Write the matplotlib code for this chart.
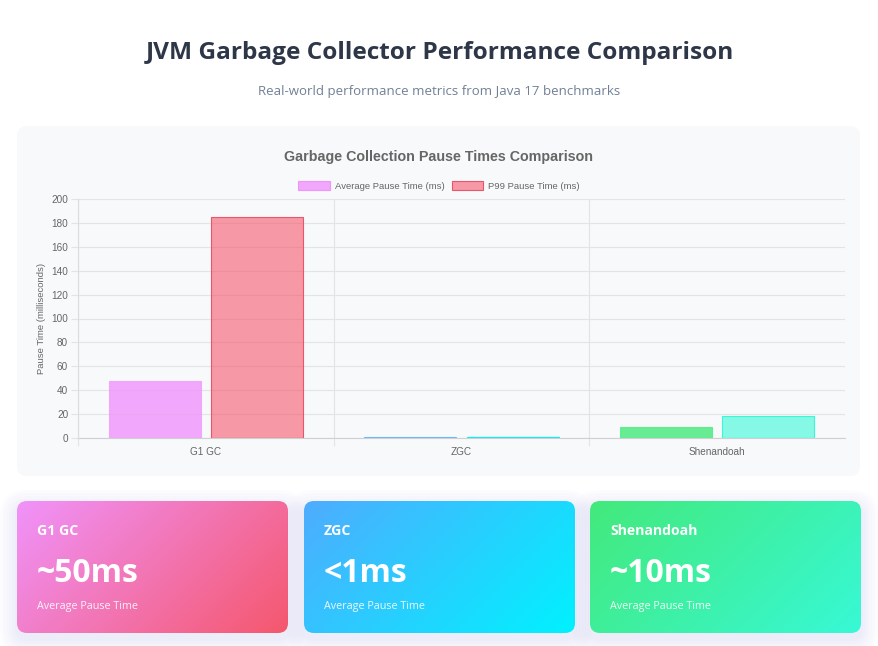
import numpy as np
import matplotlib
matplotlib.use("Agg")
import matplotlib.pyplot as plt
from matplotlib.patches import FancyBboxPatch, Patch
from matplotlib.colors import to_rgb

W, H = 879, 646

collectors = ["G1 GC", "ZGC", "Shenandoah"]
avg_pause = [48, 0.6, 9]
p99_pause = [185, 1, 18]
avg_colors = ["#f093fb", "#4facfe", "#43e97b"]
p99_colors = ["#f5576c", "#00f2fe", "#38f9d7"]
series_labels = ["Average Pause Time (ms)", "P99 Pause Time (ms)"]

card_names = ["G1 GC", "ZGC", "Shenandoah"]
card_values = ["~50ms", "<1ms", "~10ms"]
card_grad = [("#f093fb", "#f5576c"), ("#4facfe", "#00f2fe"), ("#43e97b", "#38f9d7")]
card_caption = "Average Pause Time"


def pt(px):
    return px * 72 / 100


def rounded(ax, x, y, w, h, r, **kw):
    p = FancyBboxPatch((x, y), w, h, boxstyle=f"round,pad=0,rounding_size={r}", **kw)
    ax.add_patch(p)
    return p


fig = plt.figure(figsize=(W / 100, H / 100), dpi=100)
fig.patch.set_facecolor("white")

bg = fig.add_axes([0, 0, 1, 1])
bg.set_xlim(0, W)
bg.set_ylim(H, 0)
bg.axis("off")

# header
bg.text(W / 2, 53, "JVM Garbage Collector Performance Comparison", ha="center", va="center",
        fontsize=pt(24.4), fontweight="bold", color="#2d3748", family="Open Sans")
bg.text(W / 2, 92, "Real-world performance metrics from Java 17 benchmarks", ha="center", va="center",
        fontsize=pt(13.2), color="#718096", family="Open Sans")

# chart panel
rounded(bg, 17, 126, 843, 350, 10, facecolor="#f8f9fb", edgecolor="none")
bg.text(438.5, 157, "Garbage Collection Pause Times Comparison", ha="center", va="center",
        fontsize=pt(14.3), fontweight="bold", color="#666666", family="Liberation Sans")

# cards
card_x = [17, 304, 590]
card_w = 271
card_y, card_h = 501, 132
for i, x0 in enumerate(card_x):
    for k in range(6):
        g = 2 + k * 3
        rounded(bg, x0 - g, card_y + 6 - g, card_w + 2 * g, card_h + 2 * g, 10 + g,
                facecolor="#6a5acd", edgecolor="none", alpha=0.015)
    c0 = np.array(to_rgb(card_grad[i][0]))
    c1 = np.array(to_rgb(card_grad[i][1]))
    yy, xx = np.mgrid[0:card_h, 0:card_w]
    t = (xx + yy) / (card_w + card_h)
    img = c0[None, None, :] * (1 - t[..., None]) + c1[None, None, :] * t[..., None]
    clip = rounded(bg, x0, card_y, card_w, card_h, 10, facecolor="none", edgecolor="none")
    im = bg.imshow(img, extent=(x0, x0 + card_w, card_y + card_h, card_y), interpolation="bilinear",
                   zorder=1)
    im.set_clip_path(clip)
    bg.text(x0 + 20, 531, card_names[i], ha="left", va="center", fontsize=pt(14),
            fontweight="bold", color="white", family="Open Sans", zorder=2)
    bg.text(x0 + 20, 573, card_values[i], ha="left", va="center", fontsize=pt(32),
            fontweight="bold", color="white", family="Open Sans", zorder=2)
    bg.text(x0 + 20, 607, card_caption, ha="left", va="center", fontsize=pt(10.8),
            color="white", alpha=0.9, family="Open Sans", zorder=2)
bg.set_xlim(0, W)
bg.set_ylim(H, 0)

# bar chart
left, right, top, bottom = 78, 845, 199, 438
ax = fig.add_axes([left / W, 1 - bottom / H, (right - left) / W, (bottom - top) / H])
ax.patch.set_alpha(0)
x = np.arange(len(collectors))
bw = 0.36
ax.bar(x - 0.2, avg_pause, bw, color=[to_rgb(c) + (0.8,) for c in avg_colors],
       edgecolor=[to_rgb(c) + (0.7,) for c in avg_colors], linewidth=0.8, zorder=3)
ax.bar(x + 0.2, p99_pause, bw, color=[to_rgb(c) + (0.6,) for c in p99_colors],
       edgecolor=["#e8566c", "#00f2fe", "#38f9d7"], linewidth=0.8, zorder=3)
ax.set_xlim(-0.5, 2.5)
ax.set_ylim(0, 200)
ax.set_yticks(range(0, 201, 20))
ax.set_xticks(x)
ax.set_xticklabels(collectors)
ax.set_xticks([-0.5, 0.5, 1.5], minor=True)
ax.grid(axis="y", color="#e3e4e6", linewidth=0.8, zorder=0)
ax.grid(axis="x", which="minor", color="#e3e4e6", linewidth=0.8, zorder=0)
for s in ["top", "right"]:
    ax.spines[s].set_visible(False)
ax.spines["left"].set_color("#dcdcdc")
ax.spines["bottom"].set_color("#cfd0d2")
ax.spines["left"].set_linewidth(0.8)
ax.spines["bottom"].set_linewidth(0.8)
ax.spines["bottom"].set_zorder(2)
ax.tick_params(axis="y", length=pt(7), width=0.8, color="#e3e4e6", pad=2,
               labelsize=pt(10), labelcolor="#666666")
ax.tick_params(axis="x", which="major", length=0, pad=pt(9), labelsize=pt(10), labelcolor="#666666")
ax.tick_params(axis="x", which="minor", length=pt(8), width=0.8, color="#e3e4e6")
for lab in ax.get_xticklabels() + ax.get_yticklabels():
    lab.set_family("Liberation Sans")
fig.text(42 / W, 1 - 318 / H, "Pause Time (milliseconds)", rotation=90, ha="center", va="center",
         fontsize=pt(9.5), color="#666666", family="Liberation Sans")

handles = [Patch(facecolor=to_rgb(avg_colors[0]) + (0.8,), edgecolor=avg_colors[0], linewidth=0.8),
           Patch(facecolor=to_rgb(p99_colors[0]) + (0.6,), edgecolor="#e8566c", linewidth=0.8)]
fig.legend(handles, series_labels, loc="center", bbox_to_anchor=(439 / W, 1 - 186 / H),
           ncol=2, frameon=False, prop={"family": "Liberation Sans", "size": pt(9.5)},
           labelcolor="#666666", handlelength=3.3, handleheight=1.0, handletextpad=0.5,
           columnspacing=0.8)

fig.savefig("out.png", dpi=100)
